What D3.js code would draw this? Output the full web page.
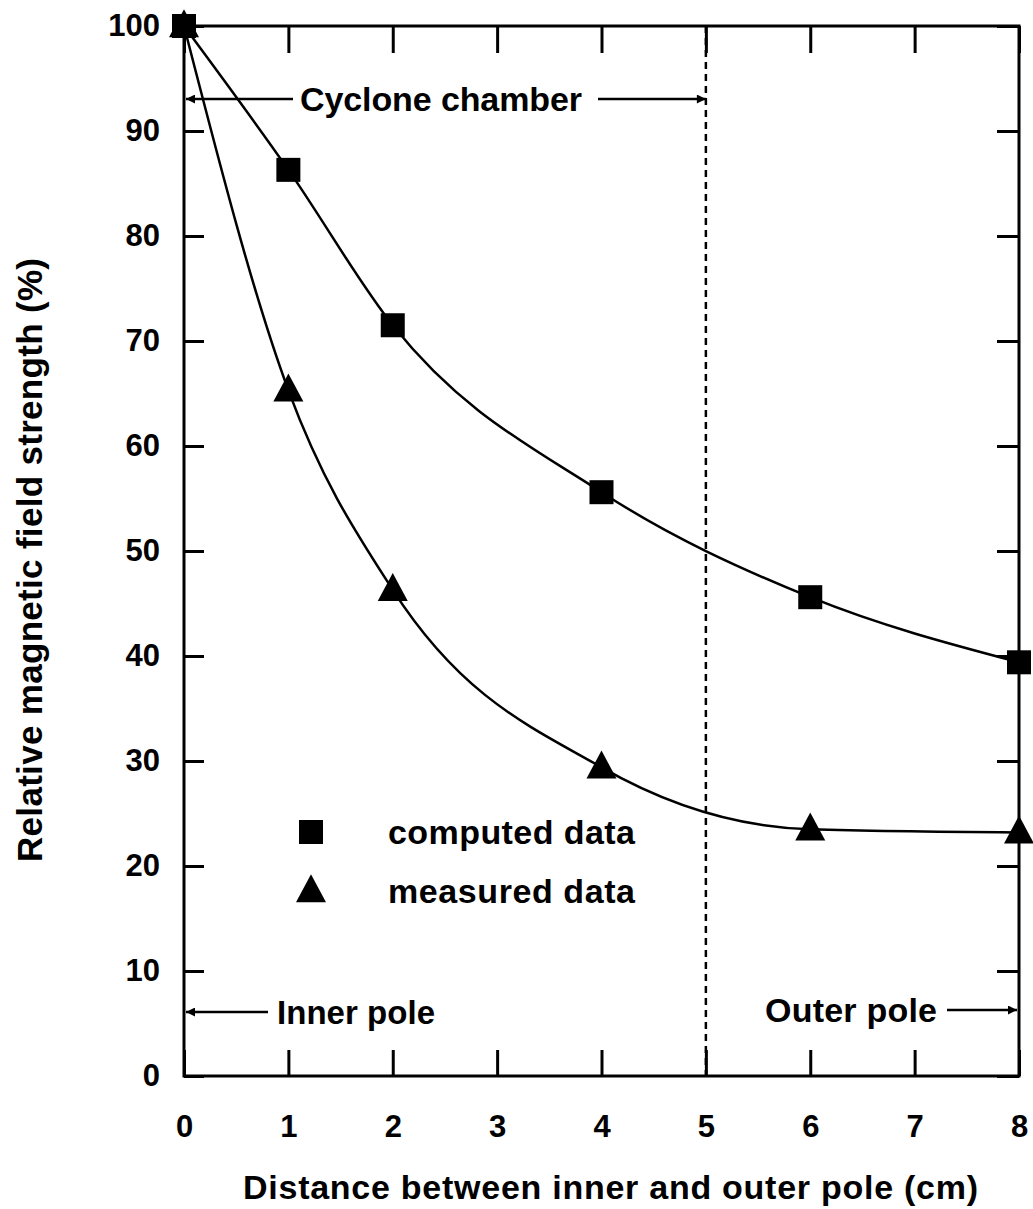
<!DOCTYPE html>
<html><head><meta charset="utf-8">
<script src="https://cdn.jsdelivr.net/npm/d3@7"></script>
<style>body{margin:0;background:#fff}svg{display:block}text{font-family:"Liberation Sans",Arial,sans-serif;font-weight:bold;fill:#000}</style>
</head><body>
<script>
const xs = [0, 1, 2, 4, 6, 8];
const computed = [100, 86.3, 71.5, 55.6, 45.6, 39.4];
const measured = [100, 65.3, 46.3, 29.4, 23.5, 23.2];
const xTicks = [0, 1, 2, 3, 4, 5, 6, 7, 8];
const yTicks = [0, 10, 20, 30, 40, 50, 60, 70, 80, 90, 100];
const chamberEdge = 5;

(function () {
const W = 1033, H = 1209;
const L = 184, R = 1019, T = 26, B = 1076;
const svg = d3.select("body").append("svg").attr("width", W).attr("height", H);
const x = d3.scaleLinear().domain([0, 8]).range([L, R]);
const y = d3.scaleLinear().domain([0, 100]).range([B, T]);

svg.append("rect").attr("x", L).attr("y", T).attr("width", R - L).attr("height", B - T)
  .attr("fill", "none").attr("stroke", "#000").attr("stroke-width", 3);

const gBottom = svg.append("g").attr("transform", `translate(0,${B})`)
  .call(d3.axisBottom(x).tickValues(xTicks).tickSize(-26).tickPadding(39).tickFormat(d3.format("d")));
const gTop = svg.append("g").attr("transform", `translate(0,${T})`)
  .call(d3.axisTop(x).tickValues(xTicks).tickSize(-27).tickFormat(""));
const gLeft = svg.append("g").attr("transform", `translate(${L},0)`)
  .call(d3.axisLeft(y).tickValues(yTicks).tickSize(-20).tickPadding(24).tickFormat(d3.format("d")));
const gRight = svg.append("g").attr("transform", `translate(${R},0)`)
  .call(d3.axisRight(y).tickValues(yTicks).tickSize(-22).tickFormat(""));
[gBottom, gTop, gLeft, gRight].forEach(g => {
  g.select(".domain").remove();
  g.selectAll(".tick line").attr("stroke", "#000").attr("stroke-width", 3);
  g.selectAll(".tick text").attr("font-size", 31).attr("font-family", "Liberation Sans, Arial, sans-serif").attr("font-weight", "bold").attr("fill", "#000");
});

svg.append("line").attr("x1", x(chamberEdge)).attr("x2", x(chamberEdge)).attr("y1", T).attr("y2", B)
  .attr("stroke", "#000").attr("stroke-width", 2.5).attr("stroke-dasharray", "7,5");

const line = d3.line().x(d => x(d[0])).y(d => y(d[1])).curve(d3.curveMonotoneX);
[computed, measured].forEach(s => {
  svg.append("path").datum(xs.map((v, i) => [v, s[i]])).attr("d", line)
    .attr("fill", "none").attr("stroke", "#000").attr("stroke-width", 2.5);
});

const sq = 24, tw = 30, th = 28;
function square(g, cx, cy) {
  g.append("rect").attr("x", cx - sq / 2).attr("y", cy - sq / 2).attr("width", sq).attr("height", sq).attr("fill", "#000");
}
function tri(g, cx, cy) {
  g.append("path").attr("d", `M${cx},${cy - th * 0.6}L${cx + tw / 2},${cy + th * 0.4}L${cx - tw / 2},${cy + th * 0.4}Z`).attr("fill", "#000");
}
xs.forEach((v, i) => square(svg, x(v), y(computed[i])));
xs.forEach((v, i) => tri(svg, x(v), y(measured[i])));

square(svg, 311, 832);
tri(svg, 311, 891);
svg.append("text").attr("x", 388).attr("y", 844).attr("font-size", 34).attr("textLength", 247).text("computed data");
svg.append("text").attr("x", 388).attr("y", 903).attr("font-size", 34).attr("textLength", 247).text("measured data");

const defs = svg.append("defs");
defs.append("marker").attr("id", "ah").attr("viewBox", "0 0 10 10").attr("refX", 10).attr("refY", 5)
  .attr("markerWidth", 17).attr("markerHeight", 9).attr("markerUnits", "userSpaceOnUse").attr("orient", "auto")
  .append("path").attr("d", "M0,0L10,5L0,10Z").attr("fill", "#000");
function arrow(x1, x2, yy) {
  svg.append("line").attr("x1", x1).attr("x2", x2).attr("y1", yy).attr("y2", yy)
    .attr("stroke", "#000").attr("stroke-width", 2.5).attr("marker-end", "url(#ah)");
}
arrow(293, L + 2, 99);
arrow(598, x(chamberEdge), 99);
svg.append("text").attr("x", 300).attr("y", 111).attr("font-size", 34).attr("textLength", 282).text("Cyclone chamber");
arrow(268, L + 2, 1012);
svg.append("text").attr("x", 277).attr("y", 1024).attr("font-size", 33).attr("textLength", 158).text("Inner pole");
arrow(947, R - 2, 1010);
svg.append("text").attr("x", 765).attr("y", 1022).attr("font-size", 34).attr("textLength", 172).text("Outer pole");

svg.append("text").attr("x", 243).attr("y", 1199).attr("font-size", 34).attr("textLength", 735)
  .text("Distance between inner and outer pole (cm)");
svg.append("text").attr("transform", `translate(42,${(258 + 862) / 2}) rotate(-90)`).attr("text-anchor", "middle").attr("font-size", 35)
  .attr("textLength", 604).text("Relative magnetic field strength (%)");
})();
</script>
</body></html>
